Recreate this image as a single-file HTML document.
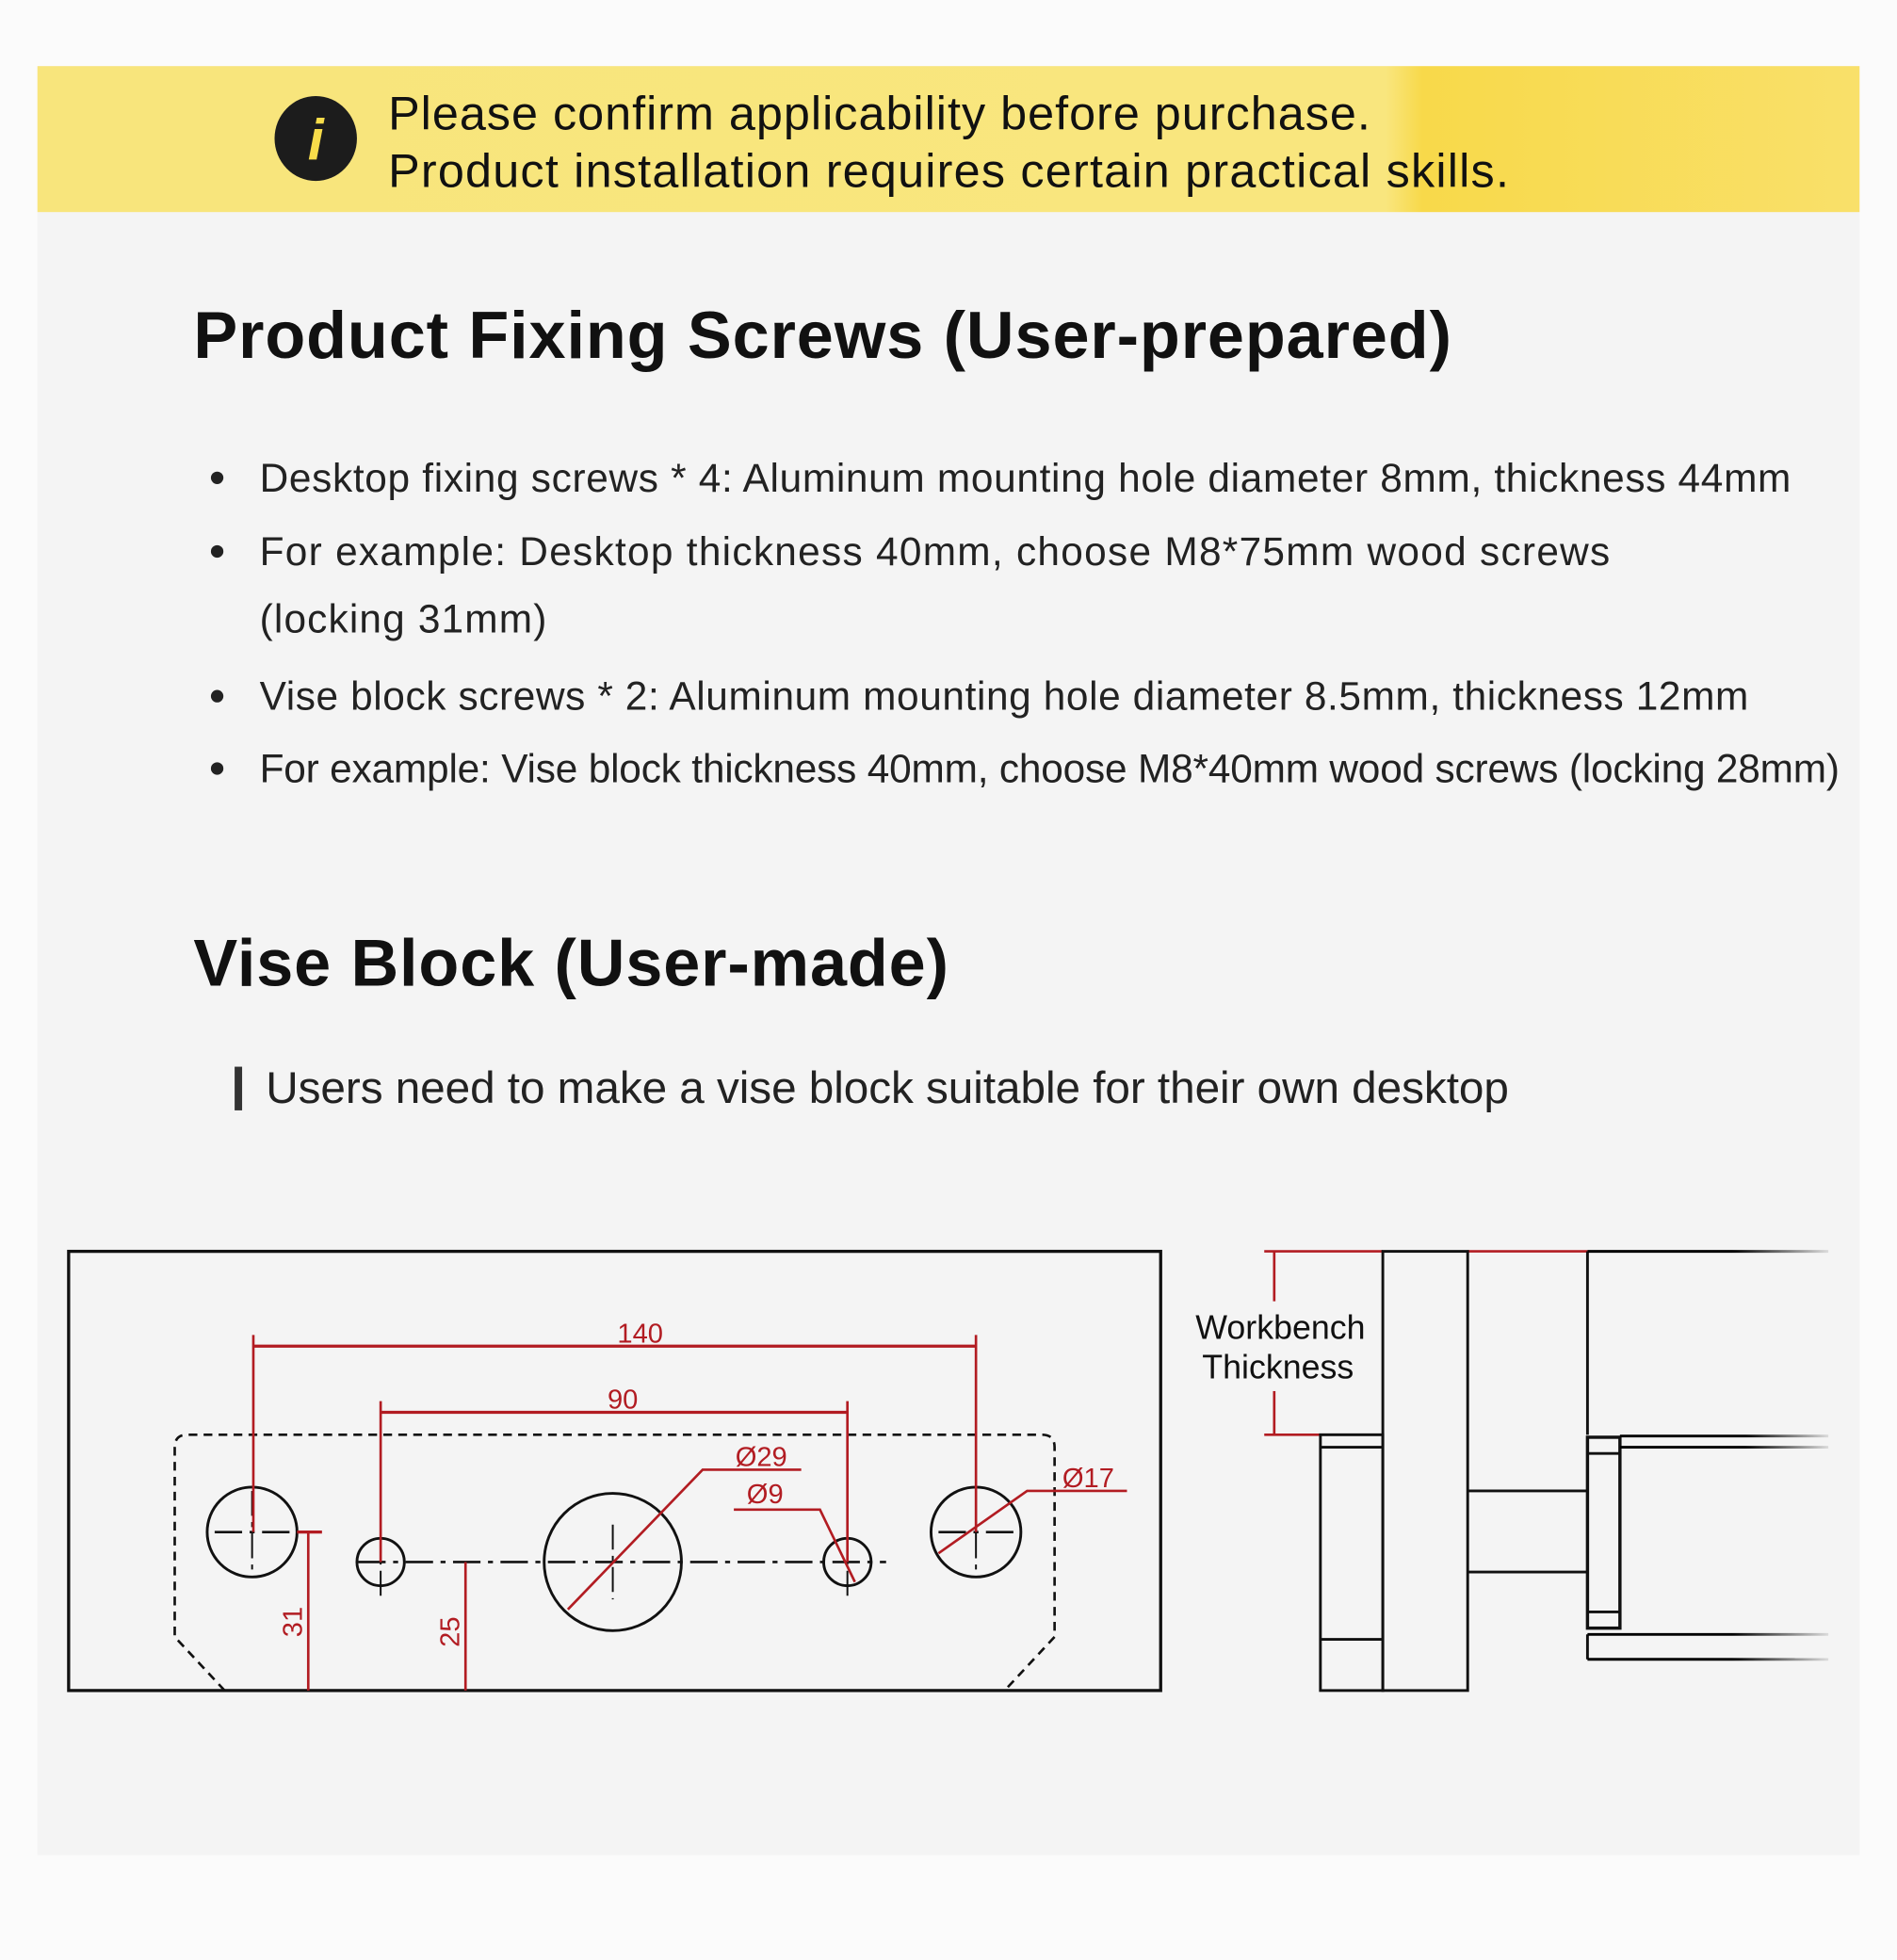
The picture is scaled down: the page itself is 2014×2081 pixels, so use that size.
<!DOCTYPE html>
<html><head><meta charset="utf-8"><style>
html,body{margin:0;padding:0;background:#fbfbfb;}
svg{display:block}
text{font-family:"Liberation Sans","DejaVu Sans",sans-serif;}
</style></head><body>
<svg width="2014" height="2081" viewBox="0 0 1520 1571" preserveAspectRatio="none" xmlns="http://www.w3.org/2000/svg">
<defs>
<linearGradient id="yg" x1="0" x2="1" y1="0" y2="0">
<stop offset="0" stop-color="#f8e57c"/><stop offset="0.74" stop-color="#f9e67e"/>
<stop offset="0.76" stop-color="#f8d94a"/><stop offset="1" stop-color="#f9e06a"/>
</linearGradient>
<linearGradient id="fade" x1="0" x2="1"><stop offset="0.6" stop-color="#000"/><stop offset="1" stop-color="#000" stop-opacity="0.1"/></linearGradient>
</defs>
<rect x="0" y="0" width="1520" height="1571" fill="#fbfbfb"/>
<rect x="30" y="53" width="1460" height="1434" fill="#f4f4f4"/>
<rect x="30" y="53" width="1460" height="117" fill="url(#yg)"/>
<ellipse cx="253" cy="111" rx="33" ry="34" fill="#1c1c1c"/>
<text x="253" y="128" font-size="46" font-weight="bold" font-style="italic" fill="#f7dc4a" text-anchor="middle" font-family="Liberation Serif,serif">i</text>
<text x="311" y="104" font-size="38" fill="#111" textLength="787">Please confirm applicability before purchase.</text>
<text x="311" y="150" font-size="38" fill="#111" textLength="898">Product installation requires certain practical skills.</text>

<text x="155" y="287" font-size="53" font-weight="bold" fill="#111" textLength="1008">Product Fixing Screws (User-prepared)</text>
<g font-size="32" fill="#222">
<circle cx="174" cy="383" r="5" fill="#222"/><text x="208" y="394" textLength="1227">Desktop fixing screws * 4: Aluminum mounting hole diameter 8mm, thickness 44mm</text>
<circle cx="174" cy="442" r="5" fill="#222"/><text x="208" y="453" textLength="1082">For example: Desktop thickness 40mm, choose M8*75mm wood screws</text>
<text x="208" y="507" textLength="230">(locking 31mm)</text>
<circle cx="174" cy="558" r="5" fill="#222"/><text x="208" y="569" textLength="1193">Vise block screws * 2: Aluminum mounting hole diameter 8.5mm, thickness 12mm</text>
<circle cx="174" cy="616" r="5" fill="#222"/><text x="208" y="627" textLength="1266">For example: Vise block thickness 40mm, choose M8*40mm wood screws (locking 28mm)</text>
</g>
<text x="155" y="790" font-size="53" font-weight="bold" fill="#111" textLength="605">Vise Block (User-made)</text>
<rect x="188" y="855" width="6" height="35" fill="#333"/>
<text x="213" y="884" font-size="36" fill="#222" textLength="996">Users need to make a vise block suitable for their own desktop</text>

<!-- left diagram -->
<g fill="none" stroke="#111">
<rect x="55" y="1003" width="875" height="352" stroke-width="2.5"/>
<path d="M180,1355 L140,1312 L140,1160 Q140,1150 150,1150 L835,1150 Q845,1150 845,1160 L845,1312 L805,1355" stroke-width="2" stroke-dasharray="7,5"/>
<g stroke-width="2.2">
<circle cx="202" cy="1228" r="36"/><circle cx="305" cy="1252" r="19"/><circle cx="491" cy="1252" r="55"/><circle cx="679" cy="1252" r="19"/><circle cx="782" cy="1228" r="36"/>
</g>
<g stroke-width="2" stroke-dasharray="22,6,4,6">
<line x1="287" y1="1252" x2="710" y2="1252"/>
<line x1="172" y1="1228" x2="235" y2="1228"/><line x1="752" y1="1228" x2="815" y2="1228"/>
</g>
<g stroke-width="1.5" stroke-dasharray="20,5,4,5">
<line x1="305" y1="1225" x2="305" y2="1280"/><line x1="679" y1="1225" x2="679" y2="1280"/>
<line x1="491" y1="1222" x2="491" y2="1282"/><line x1="202" y1="1195" x2="202" y2="1262"/><line x1="782" y1="1195" x2="782" y2="1262"/>
</g>
</g>
<g stroke="#b21c22" stroke-width="2" fill="none">
<line x1="203" y1="1079" x2="782" y2="1079" stroke-width="2.5"/>
<line x1="203" y1="1070" x2="203" y2="1228"/><line x1="782" y1="1070" x2="782" y2="1228"/>
<line x1="305" y1="1132" x2="679" y2="1132" stroke-width="2.5"/>
<line x1="305" y1="1123" x2="305" y2="1252"/><line x1="679" y1="1123" x2="679" y2="1252"/>
<polyline points="455,1290 563,1178 642,1178"/>
<polyline points="685,1268 657,1210 588,1210"/>
<polyline points="752,1245 823,1195 903,1195"/>
<line x1="247" y1="1228" x2="247" y2="1355"/><line x1="238" y1="1228" x2="258" y2="1228" stroke-width="2.5"/>
<line x1="373" y1="1252" x2="373" y2="1355"/>
</g>
<g fill="#b21c22" font-size="22">
<text x="513" y="1076" text-anchor="middle">140</text>
<text x="499" y="1129" text-anchor="middle">90</text>
<text x="610" y="1175" text-anchor="middle">Ø29</text>
<text x="613" y="1205" text-anchor="middle">Ø9</text>
<text x="872" y="1192" text-anchor="middle">Ø17</text>
<text transform="translate(242,1300) rotate(-90)" text-anchor="middle">31</text>
<text transform="translate(368,1308) rotate(-90)" text-anchor="middle">25</text>
</g>

<!-- right diagram -->
<g stroke="#b21c22" stroke-width="2" fill="none">
<line x1="1013" y1="1003" x2="1108" y2="1003"/><line x1="1176" y1="1003" x2="1272" y2="1003"/>
<line x1="1021" y1="1003" x2="1021" y2="1043"/><line x1="1021" y1="1115" x2="1021" y2="1150"/>
<line x1="1013" y1="1150" x2="1058" y2="1150"/>
</g>
<text x="1026" y="1073" font-size="27" fill="#111" text-anchor="middle">Workbench</text>
<text x="1024" y="1105" font-size="27" fill="#111" text-anchor="middle">Thickness</text>
<g stroke="#111" stroke-width="2.2" fill="none">
<rect x="1108" y="1003" width="68" height="352"/>
<rect x="1058" y="1150" width="50" height="205"/>
<line x1="1058" y1="1160" x2="1108" y2="1160"/><line x1="1058" y1="1314" x2="1108" y2="1314"/>
<line x1="1176" y1="1195" x2="1272" y2="1195"/><line x1="1176" y1="1260" x2="1272" y2="1260"/>
<line x1="1272" y1="1003" x2="1272" y2="1150"/>
<rect x="1272" y="1152" width="26" height="153" stroke-width="2.6"/>
<line x1="1272" y1="1165" x2="1298" y2="1165"/><line x1="1272" y1="1292" x2="1298" y2="1292"/>
<polyline points="1272,1310 1272,1330"/>
</g>
<g stroke="url(#fade)" stroke-width="2.2">
<line x1="1272" y1="1003" x2="1465" y2="1003.01"/>
<line x1="1298" y1="1151" x2="1465" y2="1151.01"/>
<line x1="1298" y1="1160" x2="1465" y2="1160.01"/>
<line x1="1272" y1="1310" x2="1465" y2="1310.01"/>
<line x1="1272" y1="1330" x2="1465" y2="1330.01"/>
</g>
</svg>
</body></html>
